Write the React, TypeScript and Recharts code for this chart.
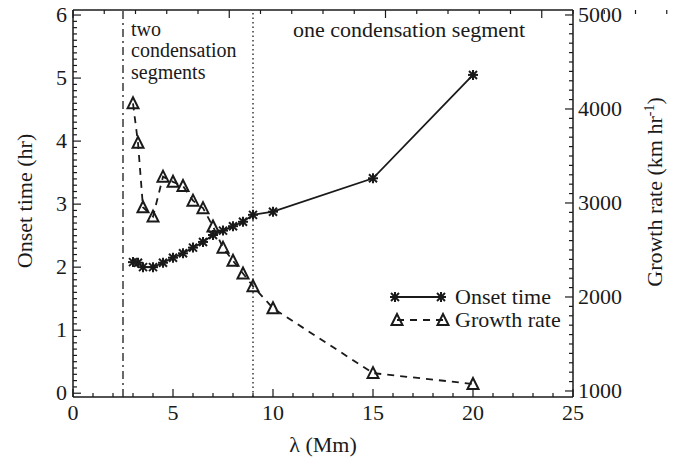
import { ComposedChart, Line, XAxis, YAxis, ReferenceLine, Legend, Customized } from 'recharts'

// lambda (Mm)
const lambda = [3, 3.25, 3.5, 4, 4.5, 5, 5.5, 6, 6.5, 7, 7.5, 8, 8.5, 9, 10, 15, 20]
// onset time (hr)
const onsetTime = [2.08, 2.07, 2.0, 2.0, 2.07, 2.15, 2.22, 2.31, 2.4, 2.51, 2.58, 2.65, 2.72, 2.83, 2.88, 3.41, 5.05]
// growth rate (km/hr)
const growthRate = [4060, 3640, 2955, 2855, 3280, 3225, 3180, 3025, 2945, 2750, 2525, 2385, 2250, 2115, 1880, 1190, 1075]

const xMajor = [0, 5, 10, 15, 20, 25]
const leftMajor = [0, 1, 2, 3, 4, 5, 6]
const rightMajor = [1000, 2000, 3000, 4000, 5000]

const xTicks = Array.from({ length: 26 }, (_, i) => i)
const leftTicks = Array.from({ length: 61 }, (_, i) => i / 10)
const rightTicks = Array.from({ length: 41 }, (_, i) => 1000 + i * 100)

const data = lambda.map((l, i) => ({ lambda: l, onset: onsetTime[i], growth: growthRate[i] }))

const INK = '#1a1a1a'
const FONT = 'Liberation Serif, DejaVu Serif, serif'
const FS = 22

const isMajor = (v: number, list: number[]) => list.some((m) => Math.abs(m - v) < 1e-6)

function BottomTick(props: any) {
  const { x, y, payload } = props
  const major = isMajor(payload.value, xMajor)
  return (
    <g>
      <line x1={x} x2={x} y1={y} y2={y - (major ? 8 : 4)} stroke={INK} strokeWidth={1.2} />
      {major && (
        <text x={x} y={y + 23} textAnchor="middle" fontFamily={FONT} fontSize={FS} fill={INK}>
          {payload.value}
        </text>
      )}
    </g>
  )
}

function TopTick(props: any) {
  const { x, y, payload } = props
  const major = isMajor(payload.value, xMajor)
  return <line x1={x} x2={x} y1={y} y2={y + (major ? 8 : 4)} stroke={INK} strokeWidth={1.2} />
}

function LeftTick(props: any) {
  const { x, y, payload } = props
  const major = isMajor(payload.value, leftMajor)
  return (
    <g>
      <line x1={x} x2={x + (major ? 8 : 4)} y1={y} y2={y} stroke={INK} strokeWidth={1.2} />
      {major && (
        <text x={x - 6} y={y + 7} textAnchor="end" fontFamily={FONT} fontSize={FS} fill={INK}>
          {Math.round(payload.value)}
        </text>
      )}
    </g>
  )
}

function RightTick(props: any) {
  const { x, y, payload } = props
  const major = isMajor(payload.value, rightMajor)
  return (
    <g>
      <line x1={x} x2={x - (major ? 8 : 4)} y1={y} y2={y} stroke={INK} strokeWidth={1.2} />
      {major && (
        <text x={x + 5} y={y + 7} textAnchor="start" fontFamily={FONT} fontSize={FS} fill={INK}>
          {payload.value}
        </text>
      )}
    </g>
  )
}

function Asterisk({ cx, cy }: { cx: number; cy: number }) {
  return (
    <g stroke={INK} strokeWidth={2}>
      <line x1={cx - 5} x2={cx + 5} y1={cy} y2={cy} />
      <line x1={cx} x2={cx} y1={cy - 5} y2={cy + 5} />
      <line x1={cx - 4} x2={cx + 4} y1={cy - 4} y2={cy + 4} />
      <line x1={cx - 4} x2={cx + 4} y1={cy + 4} y2={cy - 4} />
    </g>
  )
}

function Triangle({ cx, cy }: { cx: number; cy: number }) {
  return (
    <polygon
      points={`${cx - 5.5},${cy + 5} ${cx},${cy - 6} ${cx + 5.5},${cy + 5}`}
      fill="none"
      stroke={INK}
      strokeWidth={2}
    />
  )
}

function LegendBox() {
  return (
    <svg width={190} height={48} style={{ display: 'block' }}>
      <line x1={5} x2={51} y1={12} y2={12} stroke={INK} strokeWidth={1.8} />
      <Asterisk cx={5} cy={12} />
      <Asterisk cx={51} cy={12} />
      <text x={65} y={19} fontFamily={FONT} fontSize={FS} fill={INK}>Onset time</text>
      <line x1={7} x2={53} y1={35} y2={35} stroke={INK} strokeWidth={1.8} strokeDasharray="7 6" />
      <Triangle cx={7} cy={35} />
      <Triangle cx={53} cy={35} />
      <text x={65} y={42} fontFamily={FONT} fontSize={FS} fill={INK}>Growth rate</text>
    </svg>
  )
}

function Annotations() {
  const t = { fontFamily: FONT, fontSize: FS, fill: INK }
  const s = { fontFamily: FONT, fontSize: 20, fill: INK }
  return (
    <g>
      <text x={131} y={36} {...s}>two</text>
      <text x={131} y={57} {...s}>condensation</text>
      <text x={131} y={79} {...s}>segments</text>
      <text x={293} y={37} {...t}>one condensation segment</text>
      <text x={323} y={452} textAnchor="middle" {...t}>λ (Mm)</text>
      <text x={32} y={201} textAnchor="middle" transform="rotate(-90 32 201)" {...t}>Onset time (hr)</text>
      <text x={662} y={192} textAnchor="middle" transform="rotate(-90 662 192)" {...t}>
        Growth rate (km hr<tspan dy={-8} fontSize={14}>-1</tspan><tspan dy={8}>)</tspan>
      </text>
    </g>
  )
}

export default function App() {
  return (
    <div style={{ position: 'absolute', left: 0, top: 0, background: '#fff' }}>
      <ComposedChart
        width={694}
        height={464}
        data={data}
        margin={{ top: 9, right: 120, bottom: 66, left: 72 }}
      >
        <XAxis
          dataKey="lambda"
          type="number"
          domain={[0, 25]}
          ticks={xTicks}
          interval={0}
          height={1}
          tickSize={0}
          tickMargin={0}
          tickLine={false}
          tick={<BottomTick />}
          axisLine={{ stroke: INK, strokeWidth: 1.5 }}
        />
        <XAxis
          xAxisId="top"
          orientation="top"
          type="number"
          domain={[0, 25]}
          ticks={xTicks}
          interval={0}
          height={1}
          tickSize={0}
          tickMargin={0}
          tickLine={false}
          tick={<TopTick />}
          axisLine={{ stroke: INK, strokeWidth: 1.5 }}
        />
        <YAxis
          yAxisId="left"
          type="number"
          domain={[-0.06, 6.08]}
          ticks={leftTicks}
          interval={0}
          width={1}
          tickSize={0}
          tickMargin={0}
          tickLine={false}
          tick={<LeftTick />}
          axisLine={{ stroke: INK, strokeWidth: 1.5 }}
          allowDataOverflow
        />
        <YAxis
          yAxisId="right"
          orientation="right"
          type="number"
          domain={[936, 5053]}
          ticks={rightTicks}
          interval={0}
          width={1}
          tickSize={0}
          tickMargin={0}
          tickLine={false}
          tick={<RightTick />}
          axisLine={{ stroke: INK, strokeWidth: 1.5 }}
          allowDataOverflow
        />
        <ReferenceLine yAxisId="left" x={2.5} stroke={INK} strokeWidth={1.3} strokeDasharray="8 4 2 4" />
        <ReferenceLine yAxisId="left" x={9} stroke={INK} strokeWidth={1.3} strokeDasharray="1.5 3" />
        <Line
          yAxisId="left"
          dataKey="onset"
          name="Onset time"
          stroke={INK}
          strokeWidth={1.8}
          dot={(p: any) => <Asterisk key={`a${p.index}`} cx={p.cx} cy={p.cy} />}
          isAnimationActive={false}
        />
        <Line
          yAxisId="right"
          dataKey="growth"
          name="Growth rate"
          stroke={INK}
          strokeWidth={1.8}
          strokeDasharray="7 6"
          dot={(p: any) => <Triangle key={`t${p.index}`} cx={p.cx} cy={p.cy} />}
          isAnimationActive={false}
        />
        <Legend
          layout="vertical"
          align="center"
          verticalAlign="middle"
          content={() => <LegendBox />}
          wrapperStyle={{ left: 390, top: 285, width: 190 }}
        />
        <Customized component={<Annotations />} />
      </ComposedChart>
    </div>
  )
}
